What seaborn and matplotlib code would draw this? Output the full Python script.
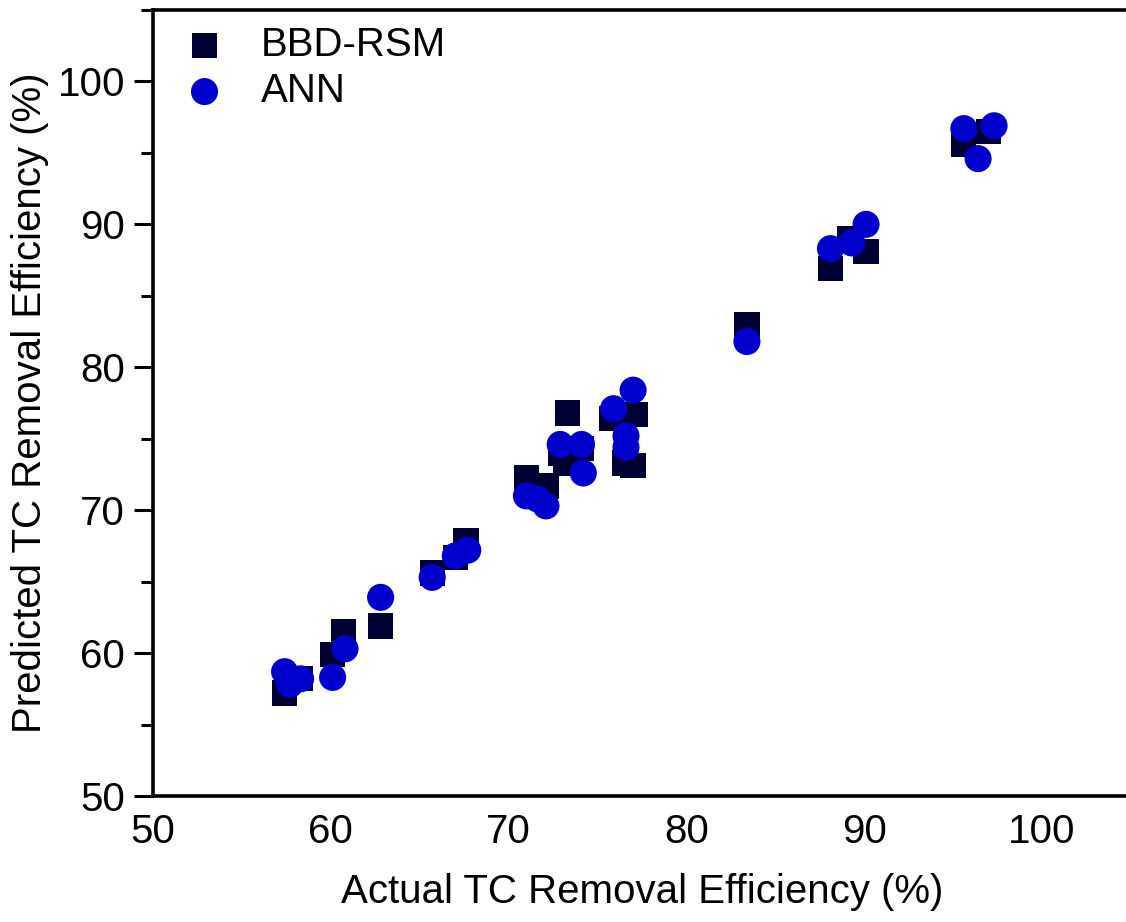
import matplotlib
matplotlib.use("Agg")
import matplotlib.pyplot as plt
import seaborn as sns
import pandas as pd
from matplotlib.ticker import MultipleLocator

bbd_actual = [57.4, 58.3, 60.1, 60.7, 62.8, 65.7, 67.0, 67.6, 71.0, 72.1, 72.9, 73.2,
              73.3, 74.1, 75.8, 76.5, 77.1, 77.0, 83.4, 88.1, 89.2, 90.1, 95.6, 97.0]
bbd_pred = [57.2, 58.2, 59.9, 61.5, 61.9, 65.6, 66.7, 67.9, 72.3, 71.7, 74.0, 73.3,
            76.8, 74.3, 76.4, 73.3, 76.7, 73.1, 83.0, 86.9, 89.0, 88.1, 95.6, 96.5]

ann_actual = [57.4, 57.7, 58.3, 60.1, 60.8, 62.8, 65.7, 67.0, 67.7, 71.0, 71.6, 72.1,
              72.9, 74.1, 74.2, 75.9, 76.6, 76.6, 77.0, 83.4, 88.1, 89.3, 90.1, 95.6,
              96.4, 97.3]
ann_pred = [58.7, 57.8, 58.2, 58.3, 60.3, 63.9, 65.3, 66.8, 67.2, 71.0, 70.8, 70.3,
            74.6, 74.6, 72.6, 77.1, 75.2, 74.4, 78.4, 81.8, 88.3, 88.7, 90.0, 96.7,
            94.6, 96.9]

series_names = ["BBD-RSM", "ANN"]
x_label = "Actual TC Removal Efficiency (%)"
y_label = "Predicted TC Removal Efficiency (%)"

sns.set_style("white")
plt.rcParams['font.family'] = ['Liberation Sans', 'DejaVu Sans']
plt.rcParams['text.color'] = 'black'
plt.rcParams['axes.labelcolor'] = 'black'
plt.rcParams['xtick.color'] = 'black'
plt.rcParams['ytick.color'] = 'black'

fig = plt.figure(figsize=(11.26, 9.22), dpi=100)
ax = fig.add_axes([153/1126, 126/922, 978/1126, 786/922])

df_bbd = pd.DataFrame({"x": bbd_actual, "y": bbd_pred})
df_ann = pd.DataFrame({"x": ann_actual, "y": ann_pred})

sns.scatterplot(data=df_bbd, x="x", y="y", ax=ax, marker="s", s=330,
                color="#000033", edgecolor="none", label=series_names[0], zorder=3)
sns.scatterplot(data=df_ann, x="x", y="y", ax=ax, marker="o", s=380,
                color="#0000CC", edgecolor="none", label=series_names[1], zorder=4)

ax.set_xlim(50, 105)
ax.set_ylim(50, 105)
ax.set_xticks([50, 60, 70, 80, 90, 100])
ax.set_yticks([50, 60, 70, 80, 90, 100])
ax.yaxis.set_minor_locator(MultipleLocator(5))
ax.tick_params(axis="x", which="both", length=0, labelsize=29, pad=12)
ax.tick_params(axis="y", which="major", length=14, width=2.2, direction="out",
               labelsize=29, left=True, pad=6)
ax.tick_params(axis="y", which="minor", length=9, width=2.2, direction="out", left=True)

for side in ["left", "bottom", "top"]:
    ax.spines[side].set_linewidth(2.6)
    ax.spines[side].set_color("black")
ax.spines["right"].set_visible(False)

ax.set_xlabel(x_label, fontsize=29, labelpad=16)
ax.set_ylabel(y_label, fontsize=29, labelpad=6)

leg = ax.legend(loc="upper left", frameon=False, fontsize=29, markerscale=1.0,
                handletextpad=0.4, borderaxespad=0.0, labelspacing=0.2,
                bbox_to_anchor=(-0.005, 1.0))

fig.savefig("out.png", dpi=100)
